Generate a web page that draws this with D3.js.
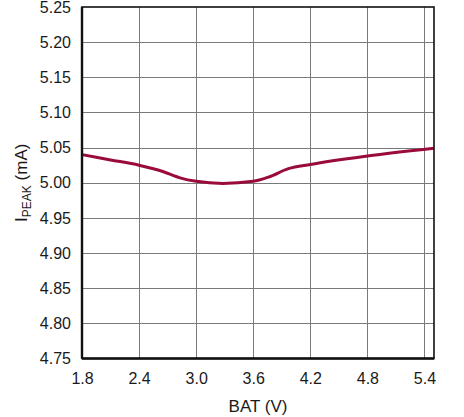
<!DOCTYPE html>
<html>
<head>
<meta charset="utf-8">
<script src="https://cdn.jsdelivr.net/npm/d3@7"></script>
<style>
  html, body { margin: 0; padding: 0; background: #fff; }
  svg { display: block; }
  text { font-family: "Liberation Sans", Arial, sans-serif; fill: #1a1a1a; }
</style>
</head>
<body>
<script>
// Data
const batV  = [1.8, 2.1, 2.4, 2.65, 2.83, 3.0, 3.28, 3.6, 3.76, 3.97, 4.2, 4.8, 5.5];
const ipeak = [5.040, 5.0325, 5.025, 5.016, 5.007, 5.002, 4.999, 5.002, 5.008, 5.020, 5.026, 5.038, 5.049];
const xTicks = [1.8, 2.4, 3.0, 3.6, 4.2, 4.8, 5.4];
const yTicks = [4.75, 4.80, 4.85, 4.90, 4.95, 5.00, 5.05, 5.10, 5.15, 5.20, 5.25];
const xDomain = [1.8, 5.5];
const yDomain = [4.75, 5.25];

const W = 464, H = 417;
const m = { left: 82, top: 7, right: 30, bottom: 58.5 };
const pw = W - m.left - m.right, ph = H - m.top - m.bottom;

const svg = d3.select("body").append("svg").attr("width", W).attr("height", H);
const g = svg.append("g").attr("transform", `translate(${m.left},${m.top})`);

const x = d3.scaleLinear().domain(xDomain).range([0, pw]);
const y = d3.scaleLinear().domain(yDomain).range([ph, 0]);

// grid
g.append("g").selectAll("line").data(yTicks.slice(1, -1)).join("line")
  .attr("x1", 0).attr("x2", pw)
  .attr("y1", d => Math.round(y(d)) + 0.5).attr("y2", d => Math.round(y(d)) + 0.5)
  .attr("stroke", "#7a7a7a").attr("stroke-width", 1);
g.append("g").selectAll("line").data(xTicks.slice(1)).join("line")
  .attr("y1", 0).attr("y2", ph)
  .attr("x1", d => Math.round(x(d)) + 0.5).attr("x2", d => Math.round(x(d)) + 0.5)
  .attr("stroke", "#7a7a7a").attr("stroke-width", 1);

// curve
const line = d3.line().x((d, i) => x(batV[i])).y(d => y(d)).curve(d3.curveMonotoneX);
g.append("path").datum(ipeak).attr("d", line)
  .attr("fill", "none").attr("stroke", "#9b0b39").attr("stroke-width", 3)
  .attr("stroke-linecap", "butt");

// frame
g.append("rect").attr("x", 0).attr("y", 0).attr("width", pw).attr("height", ph)
  .attr("fill", "none").attr("stroke", "#111").attr("stroke-width", 1.6);
g.append("line").attr("x1", 0).attr("x2", 0).attr("y1", 0).attr("y2", ph)
  .attr("stroke", "#111").attr("stroke-width", 2.4);
g.append("line").attr("x1", 0).attr("x2", pw).attr("y1", ph).attr("y2", ph)
  .attr("stroke", "#111").attr("stroke-width", 2.4);

// axes labels via d3 axes
const xAxis = d3.axisBottom(x).tickValues(xTicks).tickFormat(d3.format(".1f")).tickSize(0).tickPadding(14);
const gx = g.append("g").attr("transform", `translate(0,${ph})`).call(xAxis);
gx.select(".domain").remove();
gx.selectAll("text").attr("font-size", 16).attr("font-family", "Liberation Sans, Arial, sans-serif").attr("fill", "#1a1a1a");

const yAxis = d3.axisLeft(y).tickValues(yTicks).tickFormat(d3.format(".2f")).tickSize(0).tickPadding(11);
const gy = g.append("g").call(yAxis);
gy.select(".domain").remove();
gy.selectAll("text").attr("font-size", 16).attr("font-family", "Liberation Sans, Arial, sans-serif").attr("fill", "#1a1a1a");

// titles
svg.append("text").attr("x", m.left + pw / 2).attr("y", 411.5)
  .attr("text-anchor", "middle").attr("font-size", 17).text("BAT (V)");

const yt = svg.append("text")
  .attr("transform", `translate(27,${m.top + ph / 2}) rotate(-90)`)
  .attr("text-anchor", "middle").attr("font-size", 17);
yt.append("tspan").text("I");
yt.append("tspan").attr("font-size", 12).attr("dy", 4).text("PEAK");
yt.append("tspan").attr("dy", -4).text(" (mA)");
</script>
</body>
</html>
